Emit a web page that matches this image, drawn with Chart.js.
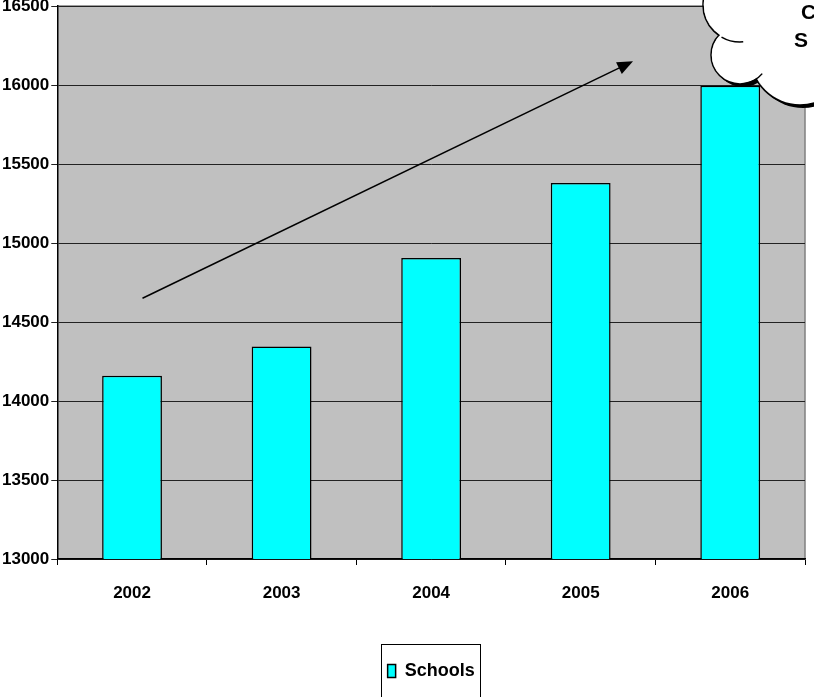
<!DOCTYPE html>
<html>
<head>
<meta charset="utf-8">
<script src="https://cdn.jsdelivr.net/npm/chart.js@4/dist/chart.umd.min.js"></script>
<style>
  html, body { margin: 0; padding: 0; background: #fff; }
  #wrap { width: 814px; height: 697px; overflow: hidden; }
</style>
</head>
<body>
<div id="wrap"><canvas id="schoolChart" width="814" height="697"></canvas></div>
<script>
// data
const years = ['2002', '2003', '2004', '2005', '2006'];
const schools = [14160, 14345, 14905, 15380, 15995];
const yTicks = [13000, 13500, 14000, 14500, 15000, 15500, 16000, 16500];
// trend arrow, in chart units (category index, value)
const arrowFrom = [0.07, 14650];
const arrowTo = [3.35, 16150];
const calloutLines = ['C', 'S'];

const FONT = '"Liberation Sans", Arial, sans-serif';

// grey plot area, frame, arrow, cloud and legend box
const decor = {
    id: 'decor',
    beforeDraw(chart) {
        const { ctx, chartArea: a } = chart;
        ctx.save();
        ctx.fillStyle = '#c0c0c0';
        ctx.fillRect(a.left, a.top, a.right - a.left, a.bottom - a.top);
        ctx.strokeStyle = '#808080';
        ctx.lineWidth = 1.5;
        ctx.beginPath();
        ctx.moveTo(a.left, a.top);
        ctx.lineTo(a.right, a.top);
        ctx.lineTo(a.right, a.bottom);
        ctx.stroke();
        ctx.restore();
    },
    afterDraw(chart) {
        const { ctx } = chart;
        const xs = chart.scales.x, ys = chart.scales.y;

        // arrow
        const x1 = xs.getPixelForValue(arrowFrom[0]), y1 = ys.getPixelForValue(arrowFrom[1]);
        const x2 = xs.getPixelForValue(arrowTo[0]), y2 = ys.getPixelForValue(arrowTo[1]);
        const ang = Math.atan2(y2 - y1, x2 - x1);
        ctx.save();
        ctx.strokeStyle = '#000';
        ctx.fillStyle = '#000';
        ctx.lineWidth = 1.5;
        ctx.beginPath();
        ctx.moveTo(x1, y1);
        ctx.lineTo(x2 - 10 * Math.cos(ang), y2 - 10 * Math.sin(ang));
        ctx.stroke();
        ctx.beginPath();
        ctx.moveTo(x2, y2);
        ctx.lineTo(x2 - 17 * Math.cos(ang - 0.4), y2 - 17 * Math.sin(ang - 0.4));
        ctx.lineTo(x2 - 17 * Math.cos(ang + 0.4), y2 - 17 * Math.sin(ang + 0.4));
        ctx.closePath();
        ctx.fill();
        ctx.restore();

        // cloud callout (top right, cut by the edge)
        const bubbles = [[740, 5, 37], [740, 55, 29], [800, 55, 50], [790, 10, 45]];
        ctx.save();
        ctx.fillStyle = '#000';
        bubbles.forEach(b => { ctx.beginPath(); ctx.arc(b[0] + 3, b[1] + 3, b[2], 0, Math.PI * 2); ctx.fill(); });
        ctx.strokeStyle = '#000';
        ctx.lineWidth = 1.5;
        bubbles.forEach(b => { ctx.beginPath(); ctx.arc(b[0], b[1], b[2], 0, Math.PI * 2); ctx.stroke(); });
        ctx.fillStyle = '#fff';
        bubbles.forEach(b => { ctx.beginPath(); ctx.arc(b[0], b[1], b[2] - 0.8, 0, Math.PI * 2); ctx.fill(); });
        // inner fold lines
        ctx.beginPath();
        ctx.arc(740, 5, 37, 85 * Math.PI / 180, 120 * Math.PI / 180);
        ctx.stroke();
        ctx.beginPath();
        ctx.arc(740, 55, 29, 40 * Math.PI / 180, 82 * Math.PI / 180);
        ctx.stroke();
        ctx.fillStyle = '#000';
        ctx.font = 'bold 21px ' + FONT;
        ctx.textBaseline = 'middle';
        ctx.fillText(calloutLines[0], 801, 13);
        ctx.fillText(calloutLines[1], 794, 41);
        ctx.restore();

        // box round the legend (its bottom runs off the page)
        const lg = chart.legend;
        if (lg && lg.legendHitBoxes && lg.legendHitBoxes.length) {
            const hb = lg.legendHitBoxes[0];
            const top = Math.round(hb.top + hb.height / 2) - 26.5;
            ctx.save();
            ctx.strokeStyle = '#000';
            ctx.lineWidth = 1;
            ctx.strokeRect(Math.round(hb.left) - 6.5, top, Math.round(hb.width) + 12, 80);
            ctx.restore();
        }
    }
};

new Chart(document.getElementById('schoolChart').getContext('2d'), {
    type: 'bar',
    data: {
        labels: years,
        datasets: [{
            label: 'Schools',
            data: schools,
            backgroundColor: '#00ffff',
            borderColor: '#000',
            borderWidth: 1.5,
            categoryPercentage: 0.4,
            barPercentage: 1
        }]
    },
    options: {
        responsive: false,
        animation: false,
        layout: { padding: { top: 6, right: 9, bottom: 7, left: 0 } },
        plugins: {
            tooltip: { enabled: false },
            legend: {
                position: 'bottom',
                fullSize: false,
                labels: {
                    color: '#000',
                    font: { family: FONT, size: 18, weight: 'bold' },
                    boxWidth: 8,
                    boxHeight: 13,
                    padding: 0
                }
            }
        },
        scales: {
            x: {
                offset: true,
                grid: { drawOnChartArea: false, drawTicks: true, tickLength: 6, color: '#000', offset: true },
                border: { color: '#000', width: 1.5 },
                ticks: { color: '#000', padding: 18, font: { family: FONT, size: 17, weight: 'bold' } },
                afterFit: axis => { axis.height = 103; }
            },
            y: {
                min: yTicks[0],
                max: yTicks[yTicks.length - 1],
                afterBuildTicks: axis => { axis.ticks = yTicks.map(v => ({ value: v })); },
                afterFit: axis => { axis.paddingTop = 0; },
                grid: { color: '#222', lineWidth: 1, tickLength: 6 },
                border: { color: '#000', width: 1.5 },
                ticks: { color: '#000', padding: 2, callback: v => String(v), font: { family: FONT, size: 17, weight: 'bold' } }
            }
        }
    },
    plugins: [decor]
});
</script>
</body>
</html>
